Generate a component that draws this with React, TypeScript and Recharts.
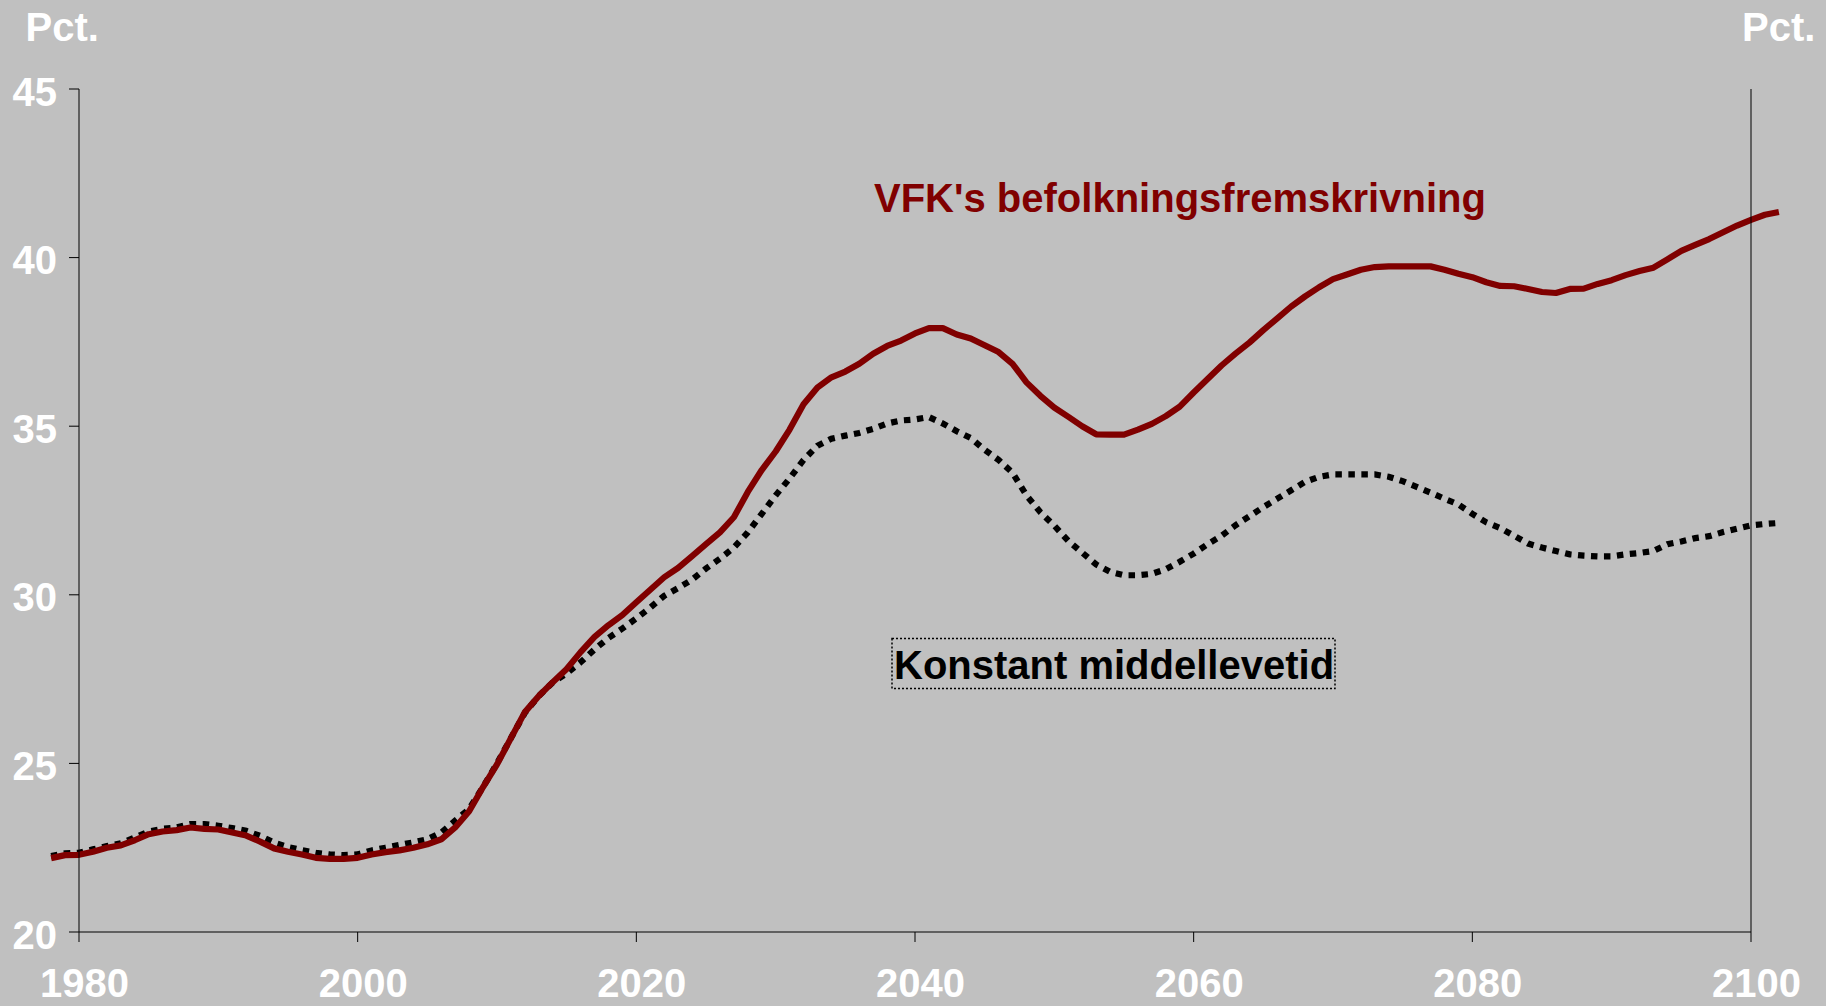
import React from "react";
import { LineChart, Line, XAxis, YAxis } from "recharts";

// annual values, first point is 1978, last is 2102
const startYear = 1978;

const vfk = [
  22.19, 22.28,
  22.29, 22.38, 22.5, 22.57, 22.72, 22.9, 22.98, 23.02, 23.1, 23.06,
  23.04, 22.95, 22.86, 22.68, 22.48, 22.38, 22.3, 22.2, 22.17, 22.17,
  22.2, 22.3, 22.37, 22.42, 22.5, 22.6, 22.75, 23.1, 23.58, 24.3,
  24.97, 25.75, 26.52, 27.0, 27.41, 27.8, 28.3, 28.75, 29.1, 29.4,
  29.78, 30.15, 30.52, 30.8, 31.15, 31.5, 31.85, 32.3, 33.05, 33.7,
  34.25, 34.9, 35.65, 36.15, 36.45, 36.62, 36.85, 37.15, 37.38, 37.54,
  37.75, 37.91, 37.91, 37.72, 37.6, 37.4, 37.2, 36.85, 36.3, 35.9,
  35.55, 35.28, 35.0, 34.76, 34.75, 34.75, 34.9, 35.07, 35.3, 35.58,
  36.0, 36.4, 36.8, 37.15, 37.48, 37.85, 38.2, 38.55, 38.85, 39.12,
  39.36, 39.5, 39.64, 39.72, 39.74, 39.74, 39.74, 39.74, 39.64, 39.52,
  39.42, 39.27, 39.16, 39.15, 39.07, 38.98, 38.95, 39.07, 39.08, 39.22,
  39.33, 39.48, 39.6, 39.7, 39.95, 40.2, 40.38, 40.55, 40.75, 40.95,
  41.12, 41.27, 41.35,
];

const konstant = [
  22.25, 22.33,
  22.35, 22.45, 22.55, 22.63, 22.8, 22.98, 23.06, 23.1, 23.2, 23.2,
  23.15, 23.08, 23.0, 22.85, 22.65, 22.52, 22.43, 22.35, 22.3, 22.28,
  22.3, 22.42, 22.5, 22.58, 22.66, 22.75, 22.95, 23.3, 23.65, 24.3,
  25.0, 25.75, 26.5, 27.0, 27.4, 27.67, 28.0, 28.38, 28.72, 29.0,
  29.3, 29.62, 29.97, 30.2, 30.45, 30.78, 31.07, 31.4, 31.85, 32.4,
  32.95, 33.45, 34.0, 34.42, 34.63, 34.72, 34.8, 34.92, 35.08, 35.17,
  35.2, 35.27, 35.08, 34.85, 34.65, 34.3, 34.0, 33.62, 32.95, 32.45,
  32.05, 31.6, 31.25, 30.9, 30.68, 30.58, 30.58, 30.62, 30.76, 30.98,
  31.22, 31.5, 31.75, 32.06, 32.33, 32.6, 32.85, 33.1, 33.35, 33.5,
  33.57, 33.57, 33.57, 33.57, 33.5, 33.37, 33.2, 33.03, 32.85, 32.68,
  32.4, 32.15, 31.98, 31.75, 31.52, 31.4, 31.3, 31.2, 31.16, 31.14,
  31.14, 31.2, 31.24, 31.3, 31.5, 31.58, 31.68, 31.74, 31.86, 31.96,
  32.06, 32.1, 32.13,
];

const xTicks = [1980, 2000, 2020, 2040, 2060, 2080, 2100];
const yTicks = [20, 25, 30, 35, 40, 45];

const data = vfk.map((v, i) => ({
  year: startYear + i,
  vfk: v,
  konstant: konstant[i],
}));

const FONT = "'Liberation Sans', Arial, Helvetica, sans-serif";
const BG = "#c0c0c0";
const RED = "#800000";

const labelStyle = {
  fill: "#fff",
  fontSize: 40,
  fontWeight: "bold" as const,
  fontFamily: FONT,
};

function XTick({ x, y, payload }: any) {
  return (
    <text x={x + 5.5} y={y + 55} textAnchor="middle" {...labelStyle}>
      {payload.value}
    </text>
  );
}

function LeftTick({ x, y, payload }: any) {
  return (
    <text x={x - 12} y={y + 16.5} textAnchor="end" {...labelStyle}>
      {payload.value}
    </text>
  );
}

function RightTick({ x, y, payload }: any) {
  return (
    <text x={x + 15} y={y + 16.5} textAnchor="start" {...labelStyle}>
      {payload.value}
    </text>
  );
}

export default function App() {
  return (
    <div
      style={{
        position: "absolute",
        left: 0,
        top: 0,
        width: 1826,
        height: 1006,
        background: BG,
        overflow: "hidden",
      }}
    >
      {/* lines start before 1980 and end after 2100, so drop the plot clip */}
      <style>{"[clip-path]{clip-path:none !important;}"}</style>
      <LineChart
        width={1826}
        height={1006}
        data={data}
        margin={{ top: 89, right: 0, bottom: 0, left: 0 }}
      >
        <XAxis
          dataKey="year"
          type="number"
          domain={[1980, 2100]}
          allowDataOverflow
          ticks={xTicks}
          interval={0}
          height={74}
          tickSize={10}
          tickMargin={0}
          axisLine={{ stroke: "#000" }}
          tickLine={{ stroke: "#000" }}
          tick={<XTick />}
        />
        <YAxis
          yAxisId="left"
          domain={[20, 45]}
          ticks={yTicks}
          interval={0}
          width={79}
          tickSize={10}
          tickMargin={0}
          axisLine={{ stroke: "#000" }}
          tickLine={{ stroke: "#000" }}
          tick={<LeftTick />}
        />
        <YAxis
          yAxisId="right"
          orientation="right"
          domain={[20, 45]}
          ticks={yTicks}
          interval={0}
          width={75}
          tickSize={10}
          tickMargin={0}
          axisLine={{ stroke: "#000" }}
          tickLine={{ stroke: "#000" }}
          tick={<RightTick />}
        />
        <Line
          yAxisId="left"
          type="linear"
          dataKey="konstant"
          stroke="#000"
          strokeWidth={6.2}
          strokeDasharray="6.5 6.5"
          dot={false}
          activeDot={false}
          isAnimationActive={false}
        />
        <Line
          yAxisId="left"
          type="linear"
          dataKey="vfk"
          stroke={RED}
          strokeWidth={6.2}
          strokeLinejoin="round"
          dot={false}
          activeDot={false}
          isAnimationActive={false}
        />
      </LineChart>
      <svg
        width={1826}
        height={1006}
        style={{ position: "absolute", left: 0, top: 0, pointerEvents: "none" }}
      >
        <text x={25.5} y={41} {...labelStyle}>
          Pct.
        </text>
        <text x={1742} y={41} {...labelStyle}>
          Pct.
        </text>
        <text
          x={874}
          y={212}
          fill={RED}
          fontSize={40}
          fontWeight="bold"
          fontFamily={FONT}
        >
          VFK's befolkningsfremskrivning
        </text>
        <rect
          x={892}
          y={638.5}
          width={443}
          height={50}
          fill="none"
          stroke="#000"
          strokeWidth={1.5}
          strokeDasharray="2 2"
        />
        <text
          x={894}
          y={679}
          fill="#000"
          fontSize={40}
          fontWeight="bold"
          fontFamily={FONT}
        >
          Konstant middellevetid
        </text>
      </svg>
    </div>
  );
}
